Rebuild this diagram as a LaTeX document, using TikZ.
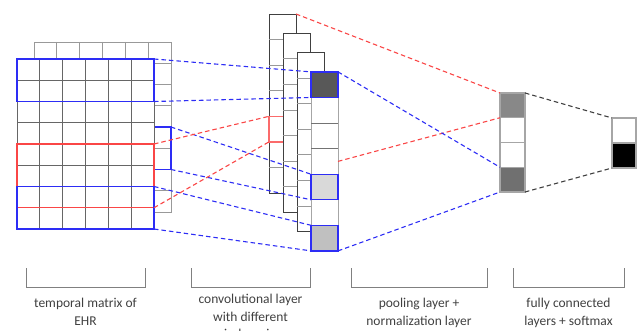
\documentclass[tikz,border=0pt]{standalone}
\usepackage{fontspec}
\setmainfont{Carlito}
\usepackage{xcolor}
\usetikzlibrary{positioning}

\definecolor{winblue}{RGB}{45,45,245}
\definecolor{winred}{RGB}{250,70,70}
\definecolor{darkcell}{RGB}{88,88,88}
\definecolor{lightcell}{RGB}{217,217,217}
\definecolor{midcell}{RGB}{192,192,192}
\definecolor{poolA}{RGB}{136,136,136}
\definecolor{poolB}{RGB}{112,112,112}

\begin{document}
\begin{tikzpicture}[x=1pt,y=-1pt,
    box/.style={draw=#1,fill=white,line width=0.9pt,inner sep=0pt,outer sep=0pt,anchor=north west},
    win/.style={draw=#1,line width=1.3pt,inner sep=0pt,outer sep=0pt,anchor=north west,minimum width=137pt},
    cell/.style={draw=#1,line width=1.3pt,inner sep=0pt,outer sep=0pt,anchor=north west,minimum width=27pt,minimum height=25.57pt},
    link/.style={draw=#1,line width=1.1pt,dash pattern=on 4.5pt off 3pt},
    brace/.style={draw=black!50,line width=0.7pt},
    lbl/.style={align=center,text=black!75,font=\fontsize{13.5}{17.5}\selectfont,inner sep=0pt}]

    \useasboundingbox (0,0) rectangle (642,331);

    % temporal matrix of EHR
    \node[box=black!40,minimum width=137pt,minimum height=170pt] (mback) at (34,42) {};
    \foreach \c in {1,...,5} \draw[black!40,line width=0.8pt] ({34+\c*22.83},42) -- ++(0,170);
    \foreach \r in {1,...,7} \draw[black!40,line width=0.8pt] (34,{42+\r*21.25}) -- ++(137,0);
    \node[win=winblue,minimum height=42.5pt] (wmid) at (34,127) {};

    \node[box=black!60,minimum width=137pt,minimum height=170pt] (mfront) at (17,59) {};
    \foreach \c in {1,...,5} \draw[black!60,line width=0.8pt] ({17+\c*22.83},59) -- ++(0,170);
    \foreach \r in {1,...,7} \draw[black!60,line width=0.8pt] (17,{59+\r*21.25}) -- ++(137,0);
    \node[win=winred,minimum height=63.75pt] (wred) at (17,144) {};
    \node[win=winblue,minimum height=42.5pt] (wtop) at (17,59) {};
    \node[win=winblue,minimum height=42.5pt] (wbot) at (17,186.5) {};

    % convolutional layer
    \foreach \i in {1,2,3} {
        \node[box=black!75,minimum width=27pt,minimum height=179pt] (s\i) at ({255+14*\i},{14+19.3*(\i-1)}) {};
        \foreach \k in {1,...,6} \draw[black!40,line width=0.8pt] ({255+14*\i},{14+19.3*(\i-1)+\k*25.57}) -- ++(27,0);
        \ifnum\i=1
            \node[cell=winred!80] (sred) at (269,116.3) {};
        \fi
    }
    \node[box=black!35,minimum width=27pt,minimum height=179pt] (s4) at (311,71.9) {};
    \foreach \k in {1,...,6} \draw[black!55,line width=0.8pt] (311,{71.9+\k*25.57}) -- ++(27,0);
    \node[cell=winblue,fill=darkcell] (c0) at (311,71.9) {};
    \node[cell=winblue,fill=lightcell] (c4) at (311,174.2) {};
    \node[cell=winblue,fill=midcell] (c6) at (311,225.3) {};

    % pooling layer
    \node[cell=black!35,minimum width=25pt,minimum height=24.75pt,fill=poolA] (p1) at (500,93) {};
    \node[cell=black!35,minimum width=25pt,minimum height=24.75pt,fill=white,below=0pt of p1] (p2) {};
    \node[cell=black!35,minimum width=25pt,minimum height=24.75pt,fill=white,below=0pt of p2] (p3) {};
    \node[cell=black!35,minimum width=25pt,minimum height=24.75pt,fill=poolB,below=0pt of p3] (p4) {};

    % fully connected
    \node[cell=black!35,minimum width=24pt,minimum height=25pt,fill=white] (f1) at (612,118) {};
    \node[cell=black!35,minimum width=24pt,minimum height=25pt,fill=black,below=0pt of f1] (f2) {};

    \draw[link=winblue] (wtop.north east) -- (c0.north west);
    \draw[link=winblue] (wtop.south east) -- (c0.south west);
    \draw[link=winblue] (wmid.north east) -- (c4.north west);
    \draw[link=winblue] (wmid.south east) -- (c4.south west);
    \draw[link=winblue] (wbot.north east) -- (c6.north west);
    \draw[link=winblue] (wbot.south east) -- (c6.south west);
    \draw[link=winred] (wred.north east) -- (sred.north west);
    \draw[link=winred] (wred.south east) -- (sred.south west);
    \draw[link=winred] (s1.north east) -- (p1.north west);
    \draw[link=winred] (s4.east) -- (p1.south west);
    \draw[link=winblue] (c0.north east) -- (p4.north west);
    \draw[link=winblue] (s4.south east) -- (p4.south west);
    \draw[link=black!75] (p1.north east) -- (f1.north west);
    \draw[link=black!75] (p4.south east) -- (f2.south west);

    % brackets and labels
    \draw[brace] (26,268) |- (145,287) -- (145,268);
    \draw[brace] (191,268) |- (310,287) -- (310,268);
    \draw[brace] (351,268) |- (487,287) -- (487,268);
    \draw[brace] (513,268) |- (624,287) -- (624,268);
    \coordinate (b1) at (85.5,287);
    \coordinate (b2) at (250.5,287);
    \coordinate (b3) at (419,287);
    \coordinate (b4) at (568.5,287);
    \node[lbl,below=11pt of b1] (t1) {temporal matrix of\\EHR};
    \node[lbl,below=7pt of b2] (t2) {convolutional layer\\with different\\window sizes};
    \node[lbl,below=11pt of b3] (t3) {pooling layer +\\normalization layer};
    \node[lbl,below=11pt of b4] (t4) {fully connected\\layers + softmax};
\end{tikzpicture}
\end{document}
